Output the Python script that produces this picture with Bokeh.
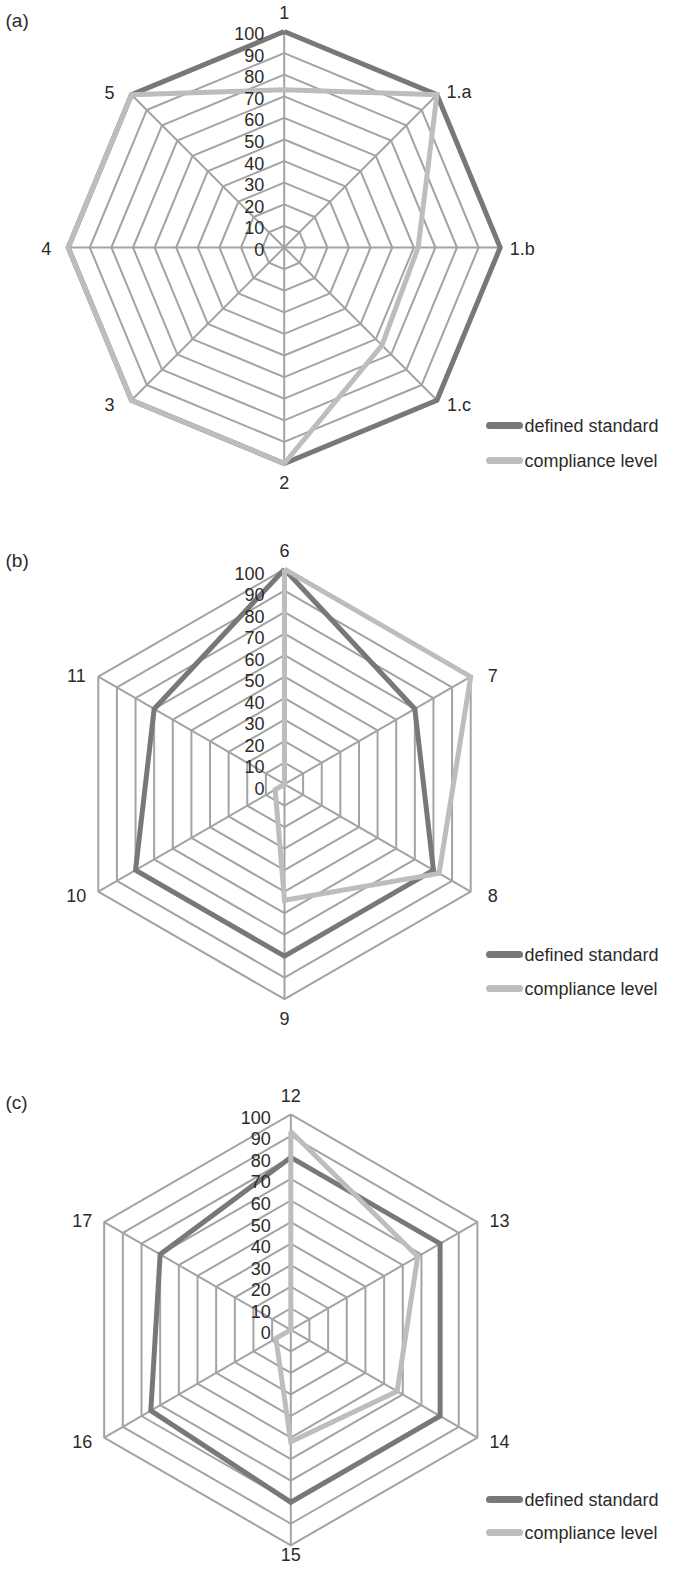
import numpy as np
from bokeh.plotting import figure
from bokeh.layouts import column
from bokeh.models import Range1d
from bokeh.core.properties import value
from bokeh.embed import file_html
from bokeh.resources import INLINE

# ---------------- data ----------------
cats_a = ["1", "1.a", "1.b", "1.c", "2", "3", "4", "5"]
std_a = [100, 100, 100, 100, 100, 100, 100, 100]
comp_a = [73, 100, 62, 64, 100, 100, 100, 100]

cats_b = ["6", "7", "8", "9", "10", "11"]
std_b = [100, 70, 80, 80, 80, 70]
comp_b = [100, 100, 83, 54, 5, 0]

cats_c = ["12", "13", "14", "15", "16", "17"]
std_c = [80, 80, 80, 80, 75, 70]
comp_c = [92, 68, 57, 52, 8, 0]

ticks = [0, 10, 20, 30, 40, 50, 60, 70, 80, 90, 100]
tick_labels = [str(t) for t in ticks]
panel_tags = ["(a)", "(b)", "(c)"]
series_names = ["defined standard", "compliance level"]

# ---------------- style ----------------
DARK = "#787878"
LIGHT = "#bdbdbd"
GRID = "#a3a3a3"
TXT = "#2b2b2b"
FONT = value("Liberation Sans")
FS = "18px"
PAGE_W = 669

# panel geometry (image pixel units): centre x, centre y, radius, top, bottom
panels = [
    dict(cx=291.7, cy=255.0, R=216.0, top=8, bot=528, tick_dy=2, tag_y=28, leg=(433, 468)),
    dict(cx=292.0, cy=791.7, R=215.0, top=528, bot=1048, tick_dy=4, tag_y=568, leg=(962, 996)),
    dict(cx=298.3, cy=1337.3, R=215.5, top=1048, bot=1575, tick_dy=3, tag_y=1110, leg=(1507, 1540)),
]
datasets = [(cats_a, std_a, comp_a), (cats_b, std_b, comp_b), (cats_c, std_c, comp_c)]


def make_panel(cats, std, comp, tag, g):
    s = g["R"] / 100.0
    cx, cy = g["cx"], g["cy"]

    def X(px):
        return (px - cx) / s

    def Y(py):
        return (cy - py) / s

    p = figure(width=PAGE_W, height=g["bot"] - g["top"],
               x_range=Range1d(X(8), X(8 + PAGE_W)),
               y_range=Range1d(Y(g["bot"]), Y(g["top"])),
               output_backend="svg", toolbar_location=None,
               x_axis_location=None, y_axis_location=None,
               min_border=0, outline_line_color=None)
    p.xgrid.visible = False
    p.ygrid.visible = False

    n = len(cats)
    th = 2 * np.pi * np.arange(n) / n
    sn, cs = np.sin(th), np.cos(th)

    # rings
    xs, ys = [], []
    for t in ticks[1:]:
        xs.append(list(np.append(t * sn, t * sn[0])))
        ys.append(list(np.append(t * cs, t * cs[0])))
    p.multi_line(xs, ys, line_color=GRID, line_width=2)
    # spokes
    p.segment(x0=np.zeros(n), y0=np.zeros(n), x1=100 * sn, y1=100 * cs,
              line_color=GRID, line_width=2)

    # series
    for vals, col in ((std, DARK), (comp, LIGHT)):
        v = np.array(vals, dtype=float)
        p.line(np.append(v * sn, v[0] * sn[0]), np.append(v * cs, v[0] * cs[0]),
               line_color=col, line_width=5, line_join="miter")

    # tick labels
    p.text(x=[X(cx - 20)] * len(ticks),
           y=[t - g["tick_dy"] / s for t in ticks],
           text=tick_labels, text_align="right", text_baseline="middle",
           text_font=FONT, text_font_size=FS, text_color=TXT)

    # category labels
    lowest = Y(g["bot"] - 13)
    lx, ly = [], []
    for k in range(n):
        vx, vy = 100 * sn[k], 100 * cs[k]
        if abs(sn[k]) < 1e-6:
            lx.append(vx)
            ly.append(max(vy + np.sign(cs[k]) * 19 / s, lowest))
        else:
            lx.append(vx + np.sign(sn[k]) * 22 / s)
            ly.append(vy + 5 * cs[k] / s - 1 / s)
    p.text(x=lx, y=ly, text=cats, text_align="center", text_baseline="middle",
           text_font=FONT, text_font_size=FS, text_color=TXT)

    # panel tag
    p.text(x=[X(13)], y=[Y(g["tag_y"])], text=[tag],
           text_align="left", text_baseline="middle",
           text_font=FONT, text_font_size="19px", text_color=TXT)

    # legend
    ly0, ly1 = g["leg"]
    p.segment(x0=[X(497), X(497)], y0=[Y(ly0), Y(ly1)], x1=[X(527), X(527)], y1=[Y(ly0), Y(ly1)],
              line_color=[DARK, LIGHT], line_width=7, line_cap="round")
    p.text(x=[X(532), X(532)], y=[Y(ly0), Y(ly1)], text=series_names,
           text_align="left", text_baseline="middle",
           text_font=FONT, text_font_size="18px", text_color=TXT)
    return p


figs = [make_panel(*d, tag, g) for d, tag, g in zip(datasets, panel_tags, panels)]
layout = column(*figs, spacing=0)
open("out.html", "w").write(file_html(layout, INLINE))
